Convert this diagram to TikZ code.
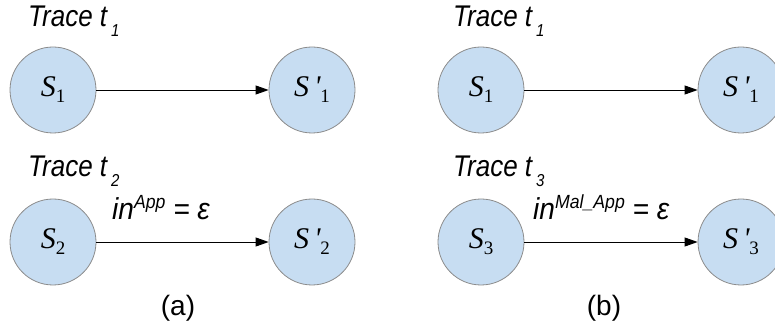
\documentclass[tikz,border=0pt]{standalone}
\usepackage{fontspec}
\setmainfont{Liberation Sans}
\newfontfamily\statefont{Liberation Serif}
\usetikzlibrary{arrows.meta}

\definecolor{statefill}{HTML}{C7DDF2}
\definecolor{stateline}{HTML}{8C8C8C}

% state symbol S_i or S'_i
\newcommand{\stsym}[2]{{\statefont\fontsize{30}{30}\selectfont\itshape S#1\raisebox{-6pt}{\fontsize{19}{19}\selectfont\upshape #2}}}
% trace heading
\newcommand{\trc}[1]{\scalebox{1}[1.15]{\fontsize{26}{26}\selectfont\itshape Trace t\hspace{4pt}\raisebox{-8pt}{\fontsize{15}{15}\selectfont #1}}}
% transition label
\newcommand{\inlab}[1]{\scalebox{1.04}[1.12]{\fontsize{27}{27}\selectfont\itshape in\raisebox{10pt}{\fontsize{17}{17}\selectfont #1} = ε}}

\tikzset{
  state/.style={circle, draw=stateline, line width=0.8pt, fill=statefill,
    minimum size=86pt, inner sep=0pt},
  trans/.style={line width=0.9pt, -{Triangle[length=13pt,width=9pt]}},
  caption/.style={font=\fontsize{28}{28}\selectfont, anchor=base},
  heading/.style={anchor=base west, inner sep=0pt}
}

\begin{document}
\begin{tikzpicture}[x=1pt,y=1pt]
  \useasboundingbox (0,0) rectangle (775,329);
  \clip (0,0) rectangle (775,329);

  % panel (a)
  \node[heading] (ha1) at (28,302) {\trc{1}};
  \node[state] (a1) at (53,239) {\stsym{}{1}};
  \node[state] (a1p) at (312,239) {\stsym{\,\char"0027}{1}};
  \draw[trans] (a1) -- (a1p);

  \node[heading] (ha2) at (28,152) {\trc{2}};
  \node[state] (a2) at (53,87) {\stsym{}{2}};
  \node[state] (a2p) at (312,87) {\stsym{\,\char"0027}{2}};
  \draw[trans] (a2) -- (a2p);
  \node[heading] (la) at (112,109) {\inlab{App}};
  \node[caption] (capa) at (178,14) {(a)};

  % panel (b)
  \node[heading] (hb1) at (453,302) {\trc{1}};
  \node[state] (b1) at (481,239) {\stsym{}{1}};
  \node[state] (b1p) at (741,239) {\stsym{\,\char"0027}{1}};
  \draw[trans] (b1) -- (b1p);

  \node[heading] (hb3) at (453,152) {\trc{3}};
  \node[state] (b3) at (481,87) {\stsym{}{3}};
  \node[state] (b3p) at (741,87) {\stsym{\,\char"0027}{3}};
  \draw[trans] (b3) -- (b3p);
  \node[heading] (lb) at (533,109) {\inlab{Mal\_App}};
  \node[caption] (capb) at (604,14) {(b)};
\end{tikzpicture}
\end{document}
